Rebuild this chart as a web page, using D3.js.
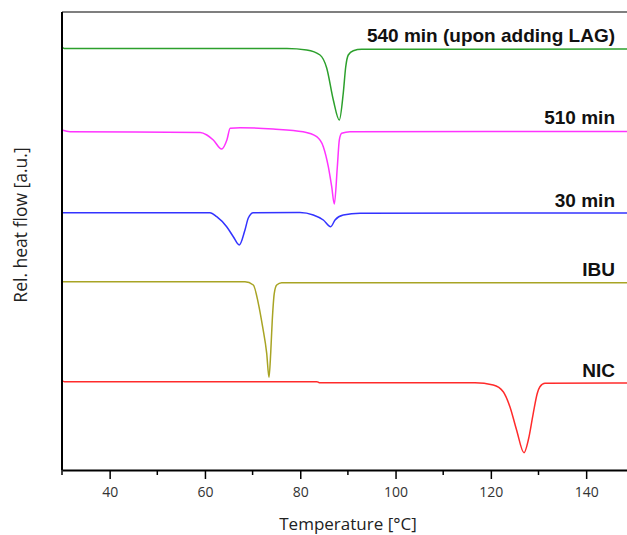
<!DOCTYPE html>
<html>
<head>
<meta charset="utf-8">
<script src="https://cdn.jsdelivr.net/npm/d3@7"></script>
<style>
  body { margin: 0; background: #fff; }
  svg { display: block; }
</style>
</head>
<body>
<script>
// DSC curves: [temperature °C, relative heat flow a.u.]
var curve540 = [[30, 423], [30.5, 421.5], [50, 421.5], [77.2, 421.5], [81.35, 420], [84.15, 415], [85.55, 402], [86.94, 370],
    [88.2, 350], [89.03, 377], [89.54, 403], [90.08, 415], [91.13, 419.3], [92.9, 420.7], [148.6, 421]];
var curve510 = [[30, 340], [31.7, 338.3], [59.0, 337.5], [60.4, 335], [61.75, 330], [63.5, 321], [64.6, 330], [65.3, 341.7],
    [67.4, 342.3], [74.3, 341], [80.6, 338.3], [83.45, 333.3], [84.84, 323.3], [85.89, 303.3], [86.6, 283.3], [87.15, 266],
    [87.78, 303], [88.2, 330], [88.7, 336.7], [90.44, 338.3], [148.6, 338.5]];
var curve30 = [[30, 257.3], [61.06, 257.3], [62.47, 253.3], [64.56, 243.3], [65.95, 233.3], [67.2, 225], [68.4, 240],
    [69.1, 252], [70.15, 257.3], [79.95, 257.5], [82.74, 255], [84.84, 250], [86.39, 243.3], [87.3, 250], [89.03, 255],
    [92.54, 256.7], [148.6, 257]];
var curveIBU = [[30, 188.3], [68.4, 188.3], [70.15, 185], [71.2, 166.7], [72.1, 143.3], [72.96, 116.7], [73.44, 92.7],
    [73.8, 117], [74.13, 150], [74.55, 176.7], [75.06, 185], [76.1, 187.3], [148.6, 187.3]];
var curveNIC = [[30, 89.3], [30.5, 88.3], [83.5, 88.3], [84, 87.3], [116.67, 87.3], [120.5, 85], [122.6, 78.3], [124.0, 63.3],
    [125.4, 40], [126.96, 17.3], [127.86, 30], [128.9, 56.7], [129.75, 76.7], [130.3, 83.3], [131.36, 86.7], [148.6, 87]];

var seriesNames = ["540 min (upon adding LAG)", "510 min", "30 min", "IBU", "NIC"];
var seriesData = [curve540, curve510, curve30, curveIBU, curveNIC];
var seriesColors = ["#2ca02c", "#ff33ff", "#3333ff", "#a8a424", "#ff2b2b"];
// label baselines, a.u.
var labelLevels = [428.3, 345.7, 263.3, 194.3, 93.3];

var xTicks = [40, 60, 80, 100, 120, 140];
var xMinor = [30, 50, 70, 90, 110, 130, 150];

var width = 627, height = 535;
var plotLeft = 62, plotTop = 12, plotBottom = 470;

var svg = d3.select("body").append("svg")
    .attr("width", width)
    .attr("height", height);

var x = d3.scaleLinear().domain([30, 150]).range([plotLeft, plotLeft + 120 * 4.765]);
var y = d3.scaleLinear().domain([0, 458]).range([plotBottom, plotTop]);

// curves
var line = d3.line()
    .x(function(d) { return x(d[0]); })
    .y(function(d) { return y(d[1]); })
    .curve(d3.curveMonotoneX);

svg.append("g").selectAll("path")
    .data(seriesData)
    .enter()
    .append("path")
    .attr("d", line)
    .attr("fill", "none")
    .attr("stroke", function(d, i) { return seriesColors[i]; })
    .attr("stroke-width", 1.5);

// labels
svg.append("g").selectAll("text")
    .data(seriesNames)
    .enter()
    .append("text")
    .attr("x", 615)
    .attr("y", function(d, i) { return y(labelLevels[i]); })
    .attr("text-anchor", "end")
    .attr("font-family", "Liberation Sans, Arial, sans-serif")
    .attr("font-weight", "bold")
    .attr("font-size", 19)
    .attr("fill", "#111")
    .text(function(d) { return d; });

// frame top
svg.append("line")
    .attr("x1", plotLeft).attr("x2", width)
    .attr("y1", plotTop).attr("y2", plotTop)
    .attr("stroke", "#555").attr("stroke-width", 1.5);

// y axis line (no ticks)
svg.append("line")
    .attr("x1", plotLeft).attr("x2", plotLeft)
    .attr("y1", plotTop).attr("y2", plotBottom)
    .attr("stroke", "#000").attr("stroke-width", 2);

// x axis
var xAxis = svg.append("g")
    .attr("transform", "translate(0," + plotBottom + ")")
    .call(d3.axisBottom(x).tickValues(xTicks).tickSize(9).tickPadding(8).tickSizeOuter(0));
xAxis.select(".domain").attr("stroke-width", 2);
xAxis.selectAll(".tick line").attr("stroke-width", 1.5);
xAxis.selectAll("text")
    .attr("font-family", "Open Sans, sans-serif")
    .attr("font-size", 14)
    .attr("fill", "#333");

svg.append("g")
    .attr("transform", "translate(0," + plotBottom + ")")
    .selectAll("line")
    .data(xMinor)
    .enter()
    .append("line")
    .attr("x1", function(d) { return x(d); })
    .attr("x2", function(d) { return x(d); })
    .attr("y1", 0).attr("y2", 5)
    .attr("stroke", "#000").attr("stroke-width", 1.5);

// axis titles
svg.append("text")
    .attr("x", 348).attr("y", 530)
    .attr("text-anchor", "middle")
    .attr("font-family", "Open Sans, sans-serif")
    .attr("font-size", 17)
    .attr("fill", "#222")
    .text("Temperature [°C]");

svg.append("text")
    .attr("transform", "translate(27,225) rotate(-90)")
    .attr("text-anchor", "middle")
    .attr("font-family", "Open Sans, sans-serif")
    .attr("font-size", 17.5)
    .attr("fill", "#222")
    .text("Rel. heat flow [a.u.]");
</script>
</body>
</html>
